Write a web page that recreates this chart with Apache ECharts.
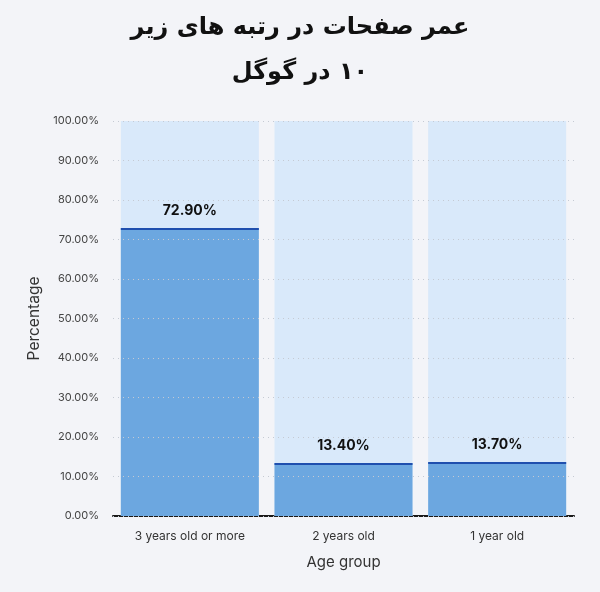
<!DOCTYPE html>
<html>
<head>
<meta charset="utf-8">
<script src="https://cdn.jsdelivr.net/npm/echarts@6/dist/echarts.min.js"></script>
<style>
  html, body { margin: 0; padding: 0; background: #f3f4f8; }
  #chart { width: 600px; height: 592px; }
</style>
</head>
<body>
<div id="chart"></div>
<script>
const titleLines = ['عمر صفحات در رتبه های زیر', '۱۰ در گوگل'];
const categories = ['3 years old or more', '2 years old', '1 year old'];
const shares = [72.9, 13.4, 13.7];
const yTicks = [0, 10, 20, 30, 40, 50, 60, 70, 80, 90, 100];

// canvas runs ltr, so start each title line with an RLM to keep it right-to-left
const rtl = s => '\u200F' + s;

const chart = echarts.init(document.getElementById('chart'));

chart.setOption({
  backgroundColor: '#f3f4f8',
  title: {
    text: titleLines.map(rtl).join('\n'),
    left: 'center',
    top: 0,
    textStyle: {
      fontFamily: 'DejaVu Sans',
      fontWeight: 'bold',
      fontSize: 24,
      lineHeight: 45,
      color: '#111'
    }
  },
  grid: { left: 113, right: 26, top: 121, bottom: 76 },
  xAxis: {
    type: 'category',
    data: categories,
    name: 'Age group',
    nameLocation: 'middle',
    nameGap: 39,
    nameTextStyle: { fontFamily: 'Inter', fontSize: 15, color: '#333' },
    axisLine: { lineStyle: { color: '#1a1a1a', width: 2 } },
    axisTick: { show: false },
    axisLabel: { fontFamily: 'Inter', fontSize: 12, color: '#333', margin: 14 }
  },
  yAxis: {
    type: 'value',
    min: 0,
    max: 100,
    interval: 10,
    z: 5,
    name: 'Percentage',
    nameLocation: 'middle',
    nameGap: 70,
    nameTextStyle: { fontFamily: 'Inter', fontSize: 15.5, color: '#333' },
    axisLine: { show: false },
    axisTick: { show: false },
    axisLabel: {
      fontFamily: 'Inter',
      fontSize: 11,
      color: '#444',
      margin: 14,
      formatter: v => yTicks.includes(v) ? v.toFixed(2) + '%' : ''
    },
    splitLine: { lineStyle: { color: '#c5cad3', type: [1, 4], width: 1 } }
  },
  series: [
    {
      type: 'bar',
      data: shares,
      barWidth: 138,
      showBackground: true,
      backgroundStyle: { color: '#d9e9fa' },
      itemStyle: { color: '#6ca7e0' },
      label: {
        show: true,
        position: 'top',
        distance: 10,
        fontFamily: 'Inter',
        fontWeight: 'bold',
        fontSize: 14,
        color: '#111',
        formatter: p => p.value.toFixed(2) + '%'
      }
    },
    {
      type: 'pictorialBar',
      data: shares,
      symbol: 'rect',
      symbolSize: [138, 2],
      symbolPosition: 'end',
      barGap: '-100%',
      itemStyle: { color: '#1f4fae' },
      z: 4
    }
  ]
});
</script>
</body>
</html>
